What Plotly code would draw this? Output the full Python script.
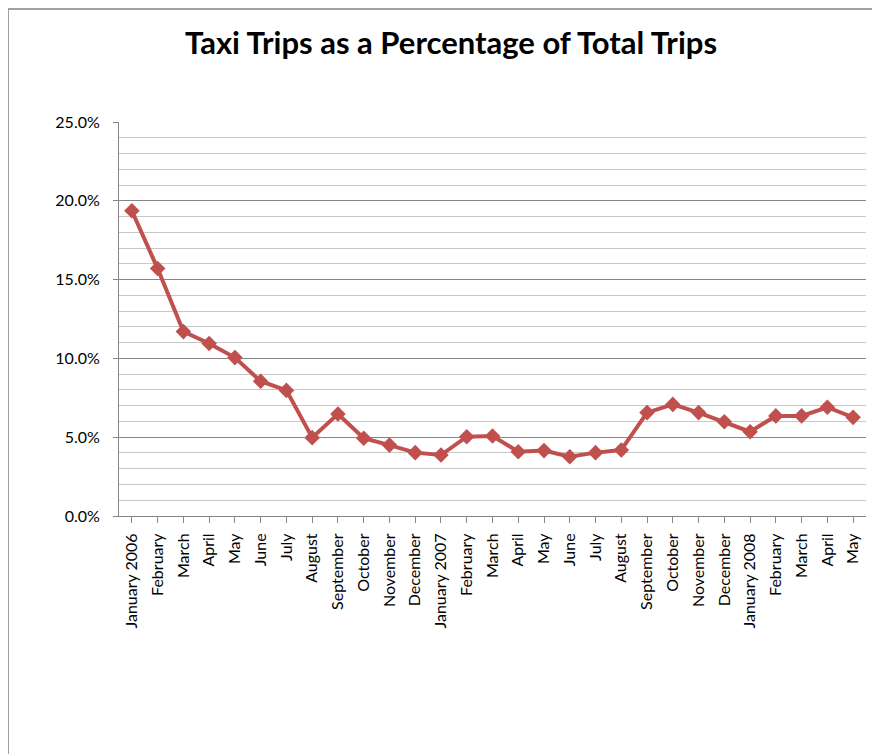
import plotly.graph_objects as go

months = ["January 2006", "February", "March", "April", "May", "June", "July",
          "August", "September", "October", "November", "December",
          "January 2007", "February", "March", "April", "May", "June", "July",
          "August", "September", "October", "November", "December",
          "January 2008", "February", "March", "April", "May"]
taxi_share = [0.1937, 0.157, 0.117, 0.1095, 0.1005, 0.0855, 0.0797,
              0.0497, 0.0647, 0.0493, 0.0450, 0.0402,
              0.0387, 0.0503, 0.0508, 0.0408, 0.0415, 0.0376, 0.0402,
              0.0419, 0.0656, 0.0708, 0.0656, 0.0598,
              0.0535, 0.0635, 0.0635, 0.0690, 0.0626]

x_idx = list(range(len(months)))

W, H = 872, 746
L, R, T, B = 111, 14, 114, 238
pw, ph = W - L - R, H - T - B

fig = go.Figure()
fig.add_trace(go.Scatter(
    x=x_idx, y=taxi_share, mode="lines+markers",
    line=dict(color="#C0504D", width=4),
    marker=dict(symbol="diamond", size=12, color="#C0504D"),
    showlegend=False,
))

font_family = "Lato, 'Open Sans', sans-serif"

fig.update_layout(
    width=W, height=H,
    margin=dict(l=L, r=R, t=T, b=B),
    paper_bgcolor="white", plot_bgcolor="white",
    font=dict(family=font_family, color="#000000"),
    title=dict(text="<b>Taxi Trips as a Percentage of Total Trips</b>",
               x=443/W, xanchor="center", xref="container",
               y=1-35/H, yanchor="middle", yref="container",
               font=dict(size=31, family=font_family, color="#000000")),
    xaxis=dict(
        range=[-0.5, len(months)-0.5],
        tickmode="array", tickvals=x_idx, ticktext=months,
        tickangle=-90, tickfont=dict(size=16, color="#000000"),
        showgrid=False, showline=True, linecolor="#868686", linewidth=1,
        ticks="outside", ticklen=6, tickcolor="#868686", tickson="boundaries",
        zeroline=False, ticklabelstandoff=4,
    ),
    yaxis=dict(
        range=[0, 0.25], dtick=0.05, tickformat=".1%",
        tickfont=dict(size=16, color="#000000"),
        showgrid=True, gridcolor="#868686", gridwidth=1,
        showline=True, linecolor="#868686", linewidth=1,
        ticks="outside", ticklen=5, tickcolor="#868686",
        zeroline=False, ticklabelstandoff=10,
        minor=dict(dtick=0.01, showgrid=True, gridcolor="#C8C8C8", gridwidth=1),
    ),
    shapes=[
        dict(type="line", xref="paper", yref="paper",
             x0=-L/pw, x1=-L/pw, y0=-B/ph - 0.05, y1=(ph + T - 1)/ph,
             line=dict(color="#A0A0A0", width=2)),
        dict(type="line", xref="paper", yref="paper",
             x0=-L/pw, x1=(W - L + 10)/pw, y0=(ph + T - 1)/ph, y1=(ph + T - 1)/ph,
             line=dict(color="#A0A0A0", width=2)),
    ],
)

fig.write_html("out.html")
